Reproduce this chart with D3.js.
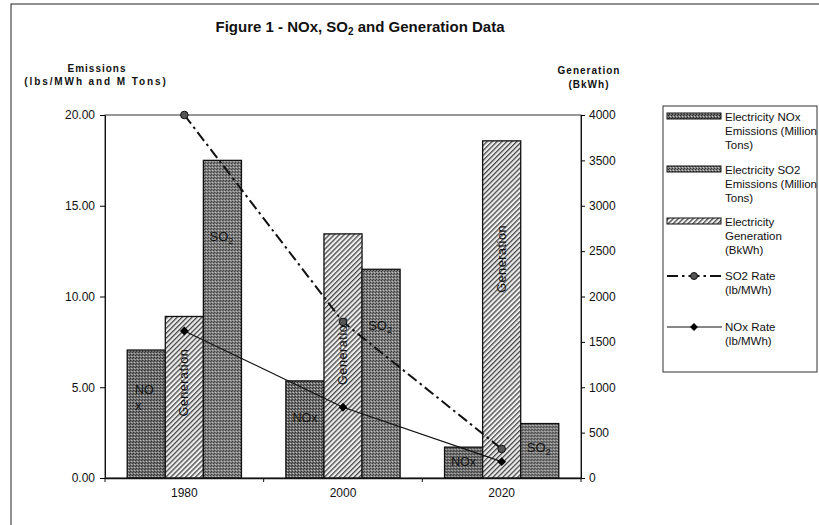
<!DOCTYPE html>
<html>
<head>
<meta charset="utf-8">
<script src="https://cdn.jsdelivr.net/npm/d3@7"></script>
<style>
  body { margin: 0; background: #fff; }
  text { font-family: "Liberation Sans", Arial, sans-serif; fill: #111; }
</style>
</head>
<body>
<div id="chart"></div>
<script>
// values
const years = ["1980", "2000", "2020"];
const noxEmissions = [7.05, 5.35, 1.7];     // million tons, left axis
const so2Emissions = [17.5, 11.5, 3.0];     // million tons, left axis
const generation = [1780, 2690, 3715];      // BkWh, right axis
const so2Rate = [20.0, 8.6, 1.6];           // lb/MWh, left axis
const noxRate = [8.1, 3.9, 0.9];            // lb/MWh, left axis
const leftTicks = [0, 5, 10, 15, 20];
const rightTicks = [0, 500, 1000, 1500, 2000, 2500, 3000, 3500, 4000];

const width = 819, height = 525;
const plot = {left: 105, right: 581, top: 115, bottom: 478};

const svg = d3.select("#chart").append("svg")
    .attr("width", width)
    .attr("height", height);

svg.append("rect").attr("width", width).attr("height", height).attr("fill", "#fff");

// fills
const defs = svg.append("defs");
const dots = (id, base, dark) => {
    const p = defs.append("pattern").attr("id", id)
        .attr("patternUnits", "userSpaceOnUse").attr("width", 3).attr("height", 3);
    p.append("rect").attr("width", 3).attr("height", 3).attr("fill", base);
    p.append("rect").attr("x", 0).attr("y", 0).attr("width", 1).attr("height", 1).attr("fill", dark);
    p.append("rect").attr("x", 2).attr("y", 1).attr("width", 1).attr("height", 1).attr("fill", dark);
    p.append("rect").attr("x", 1).attr("y", 2).attr("width", 1).attr("height", 1).attr("fill", "#c8c8c8");
};
dots("noxFill", "#747474", "#262626");
dots("so2Fill", "#828282", "#333");
const hatch = defs.append("pattern").attr("id", "genFill")
    .attr("patternUnits", "userSpaceOnUse").attr("width", 3.5).attr("height", 3.5)
    .attr("patternTransform", "rotate(45)");
hatch.append("rect").attr("width", 3.5).attr("height", 3.5).attr("fill", "#eeeeee");
hatch.append("rect").attr("width", 1.3).attr("height", 3.5).attr("fill", "#484848");

const x0 = d3.scaleBand()
    .domain(years)
    .range([plot.left, plot.right])
    .paddingInner(0.28)
    .paddingOuter(0.14);
const x1 = d3.scaleBand()
    .domain(["nox", "gen", "so2"])
    .range([0, x0.bandwidth()]);
const yL = d3.scaleLinear().domain([0, 20]).range([plot.bottom, plot.top]);
const yR = d3.scaleLinear().domain([0, 4000]).range([plot.bottom, plot.top]);

// outer border
svg.append("rect")
    .attr("x", 11).attr("y", 4)
    .attr("width", width + 20).attr("height", height + 20)
    .attr("fill", "none").attr("stroke", "#222").attr("stroke-width", 1);

// title
const title = svg.append("text")
    .attr("x", 360).attr("y", 32)
    .attr("text-anchor", "middle")
    .attr("font-size", 15).attr("font-weight", "bold");
title.append("tspan").text("Figure 1 - NOx, SO");
title.append("tspan").attr("font-size", 10).attr("dy", 3).text("2");
title.append("tspan").attr("dy", -3).text(" and Generation Data");

// axis titles
svg.append("text").attr("x", 97).attr("y", 72).attr("text-anchor", "middle")
    .attr("font-size", 10).attr("font-weight", "bold").attr("letter-spacing", 1)
    .text("Emissions");
svg.append("text").attr("x", 96).attr("y", 85).attr("text-anchor", "middle")
    .attr("font-size", 10).attr("font-weight", "bold").attr("letter-spacing", 1.9)
    .text("(lbs/MWh and M Tons)");
svg.append("text").attr("x", 589).attr("y", 74).attr("text-anchor", "middle")
    .attr("font-size", 10).attr("font-weight", "bold").attr("letter-spacing", 1)
    .text("Generation");
svg.append("text").attr("x", 589).attr("y", 88).attr("text-anchor", "middle")
    .attr("font-size", 10).attr("font-weight", "bold").attr("letter-spacing", 1)
    .text("(BkWh)");

// plot frame
svg.append("rect")
    .attr("x", plot.left).attr("y", plot.top)
    .attr("width", plot.right - plot.left).attr("height", plot.bottom - plot.top)
    .attr("fill", "none").attr("stroke", "#333").attr("stroke-width", 1);

// bars
const groups = svg.selectAll("g.year")
    .data(years)
    .enter()
    .append("g")
    .attr("class", "year")
    .attr("transform", d => `translate(${x0(d)},0)`);

const barSeries = [
    {key: "nox", values: noxEmissions, y: yL, fill: "url(#noxFill)"},
    {key: "gen", values: generation, y: yR, fill: "url(#genFill)"},
    {key: "so2", values: so2Emissions, y: yL, fill: "url(#so2Fill)"}
];

groups.selectAll("rect")
    .data((d, i) => barSeries.map(s => ({key: s.key, v: s.values[i], y: s.y, fill: s.fill})))
    .enter()
    .append("rect")
    .attr("x", d => x1(d.key))
    .attr("y", d => d.y(d.v))
    .attr("width", x1.bandwidth())
    .attr("height", d => plot.bottom - d.y(d.v))
    .attr("fill", d => d.fill)
    .attr("stroke", "#111")
    .attr("stroke-width", 1.3);

// labels inside bars, placed at a share of the bar height
const noxLabelAt = [0.69, 0.62, 0.52];
const so2LabelAt = [0.76, 0.73, 0.56];
const genLabelAt = [0.59, 0.52, 0.65];
const cx = (yr, key) => x0(yr) + x1(key) + x1.bandwidth() / 2;

years.forEach((yr, i) => {
    const yn = plot.bottom - (plot.bottom - yL(noxEmissions[i])) * noxLabelAt[i];
    if (i === 0) {
        svg.append("text").attr("x", cx(yr, "nox") - 2).attr("y", yn + 4)
            .attr("text-anchor", "middle").attr("font-size", 12.5).text("NO");
        svg.append("text").attr("x", cx(yr, "nox") - 8).attr("y", yn + 20)
            .attr("text-anchor", "middle").attr("font-size", 12.5).text("x");
    } else {
        svg.append("text").attr("x", cx(yr, "nox")).attr("y", yn + 4)
            .attr("text-anchor", "middle").attr("font-size", 12.5).text("NOx");
    }
    const ys = plot.bottom - (plot.bottom - yL(so2Emissions[i])) * so2LabelAt[i];
    const s = svg.append("text").attr("x", cx(yr, "so2") - 1).attr("y", ys + 4)
        .attr("text-anchor", "middle").attr("font-size", 13);
    s.append("tspan").text("SO");
    s.append("tspan").attr("font-size", 9).attr("dy", 3).text("2");

    const yg = plot.bottom - (plot.bottom - yR(generation[i])) * genLabelAt[i];
    svg.append("text")
        .attr("transform", `translate(${cx(yr, "gen") + 4},${yg}) rotate(-90)`)
        .attr("text-anchor", "middle").attr("font-size", 12.5).attr("letter-spacing", 0.6)
        .text("Generation");
});

// rate lines
const xc = d => x0(d) + x0.bandwidth() / 2;
const rateLine = d3.line().x((d, i) => xc(years[i])).y(d => yL(d));

svg.append("path")
    .datum(so2Rate)
    .attr("d", rateLine)
    .attr("fill", "none")
    .attr("stroke", "#111")
    .attr("stroke-width", 2)
    .attr("stroke-dasharray", "11,4,2.5,4");
svg.append("path")
    .datum(noxRate)
    .attr("d", rateLine)
    .attr("fill", "none")
    .attr("stroke", "#111")
    .attr("stroke-width", 1.2);

svg.selectAll("circle.so2")
    .data(so2Rate)
    .enter()
    .append("circle")
    .attr("class", "so2")
    .attr("cx", (d, i) => xc(years[i]))
    .attr("cy", d => yL(d))
    .attr("r", 3.8)
    .attr("fill", "#555")
    .attr("stroke", "#111")
    .attr("stroke-width", 1);

svg.selectAll("path.noxmark")
    .data(noxRate)
    .enter()
    .append("path")
    .attr("class", "noxmark")
    .attr("d", d3.symbol(d3.symbolDiamond2, 50))
    .attr("transform", (d, i) => `translate(${xc(years[i])},${yL(d)})`)
    .attr("fill", "#000");

// axes
const leftAxis = svg.append("g")
    .attr("transform", `translate(${plot.left},0)`)
    .call(d3.axisLeft(yL).tickValues(leftTicks).tickFormat(d3.format(".2f")).tickSize(5).tickPadding(5));
leftAxis.selectAll("text").attr("font-size", 12).attr("font-family", null);
leftAxis.select(".domain").attr("stroke", "#111");

const rightAxis = svg.append("g")
    .attr("transform", `translate(${plot.right},0)`)
    .call(d3.axisRight(yR).tickValues(rightTicks).tickFormat(d3.format("d")).tickSize(4).tickPadding(4));
rightAxis.selectAll("text").attr("font-size", 12).attr("font-family", null);
rightAxis.select(".domain").attr("stroke", "#111");

const bottomAxis = svg.append("g")
    .attr("transform", `translate(0,${plot.bottom})`)
    .call(d3.axisBottom(x0).tickSize(0).tickPadding(10));
bottomAxis.selectAll("text").attr("font-size", 12).attr("font-family", null);
bottomAxis.select(".domain").attr("stroke", "#111").attr("stroke-width", 1.5);

// category boundary ticks
svg.selectAll("line.xtick")
    .data(d3.range(years.length + 1))
    .enter()
    .append("line")
    .attr("class", "xtick")
    .attr("x1", i => plot.left + i * x0.step())
    .attr("x2", i => plot.left + i * x0.step())
    .attr("y1", plot.bottom)
    .attr("y2", plot.bottom + 4)
    .attr("stroke", "#111");

// legend
const legend = svg.append("g");
legend.append("rect")
    .attr("x", 663).attr("y", 106)
    .attr("width", 154).attr("height", 266)
    .attr("fill", "#fff").attr("stroke", "#333").attr("stroke-width", 1);

const legendItems = [
    {type: "bar", fill: "url(#noxFill)", lines: ["Electricity NOx", "Emissions (Million", "Tons)"]},
    {type: "bar", fill: "url(#so2Fill)", lines: ["Electricity SO2", "Emissions (Million", "Tons)"]},
    {type: "bar", fill: "url(#genFill)", lines: ["Electricity", "Generation", "(BkWh)"]},
    {type: "so2", lines: ["SO2 Rate", "(lb/MWh)"]},
    {type: "nox", lines: ["NOx Rate", "(lb/MWh)"]}
];
const legendY = [116.5, 169.5, 221.5, 276, 327];

legendItems.forEach((item, i) => {
    const y = legendY[i];
    if (item.type === "bar") {
        legend.append("rect")
            .attr("x", 667).attr("y", y - 3.5)
            .attr("width", 54).attr("height", 6)
            .attr("fill", item.fill).attr("stroke", "#111").attr("stroke-width", 1);
    } else if (item.type === "so2") {
        legend.append("line")
            .attr("x1", 667).attr("x2", 722).attr("y1", y).attr("y2", y)
            .attr("stroke", "#111").attr("stroke-width", 2)
            .attr("stroke-dasharray", "11,4,2.5,4");
        legend.append("circle").attr("cx", 694).attr("cy", y).attr("r", 3.5)
            .attr("fill", "#555").attr("stroke", "#111");
    } else {
        legend.append("line")
            .attr("x1", 667).attr("x2", 722).attr("y1", y).attr("y2", y)
            .attr("stroke", "#111").attr("stroke-width", 1.2);
        legend.append("path")
            .attr("d", d3.symbol(d3.symbolDiamond2, 40))
            .attr("transform", `translate(694,${y})`)
            .attr("fill", "#000");
    }
    item.lines.forEach((t, j) => {
        legend.append("text")
            .attr("x", 725).attr("y", y + 4 + j * 14.3)
            .attr("font-size", 11.5)
            .text(t);
    });
});
</script>
</body>
</html>
